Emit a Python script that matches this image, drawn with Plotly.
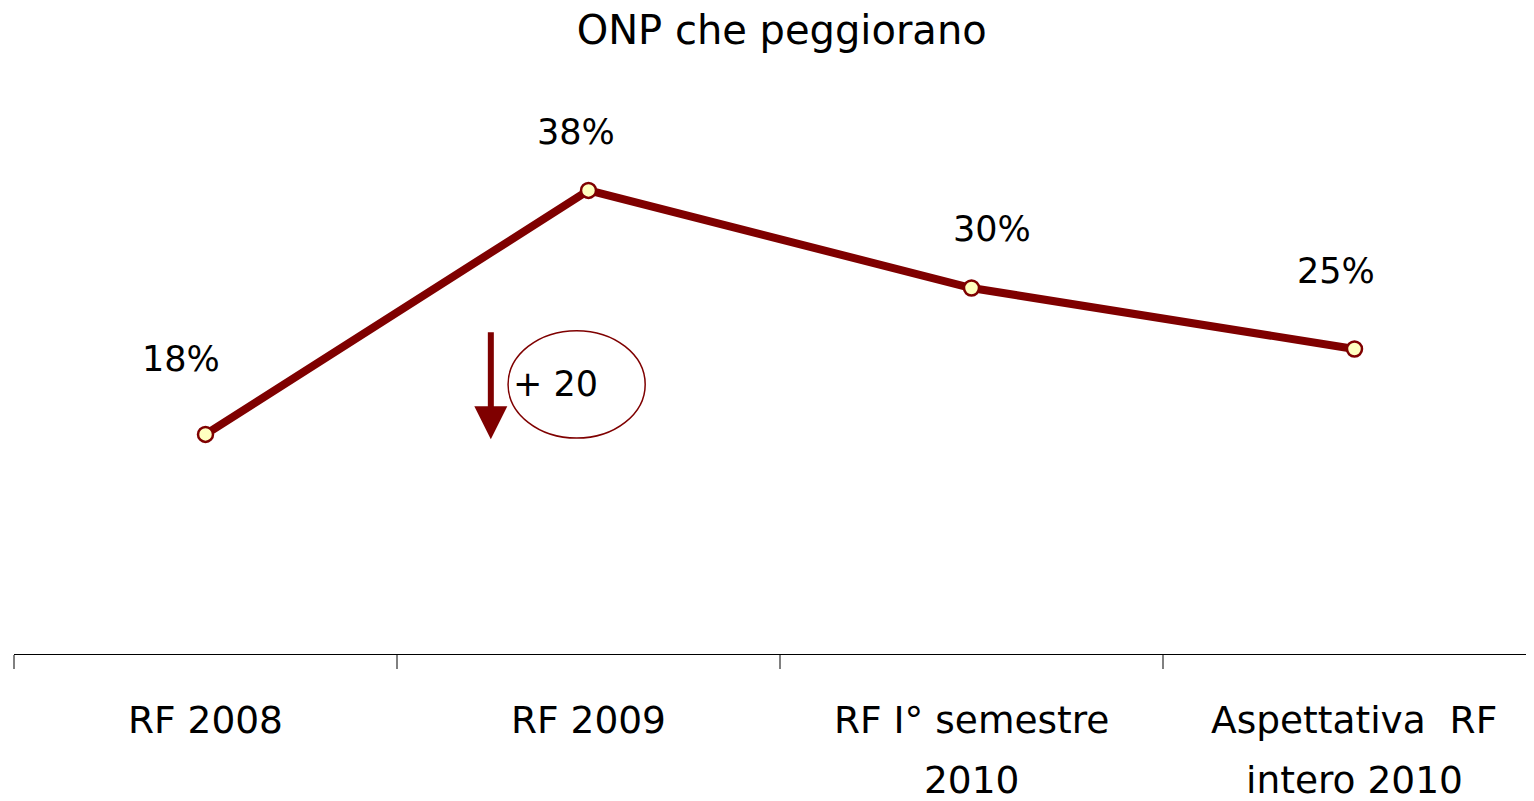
import plotly.graph_objects as go

categories = ["RF 2008", "RF 2009", "RF I° semestre\n2010", "Aspettativa  RF\nintero 2010"]
values = [18, 38, 30, 25]
value_labels = ["18%", "38%", "30%", "25%"]
label_xshift = [-25, -13, 21, -18]
label_yshift = [75, 58, 59, 78]

RED = "#7F0000"
FONT = "DejaVu Sans, sans-serif"

W, H = 1526, 793
fig = go.Figure()
fig.add_trace(go.Scatter(
    x=list(range(len(categories))), y=values, mode="lines+markers",
    line=dict(color=RED, width=8),
    marker=dict(size=15, color="#FFFFC0", line=dict(color=RED, width=2.5)),
    hoverinfo="skip", showlegend=False,
))

for i, (v, t) in enumerate(zip(values, value_labels)):
    fig.add_annotation(x=i, y=v, text=t, showarrow=False,
                       xshift=label_xshift[i], yshift=label_yshift[i],
                       font=dict(size=35, color="#000000", family=FONT))

# category labels (two-line labels with wide line spacing)
for i, cat in enumerate(categories):
    for k, line in enumerate(cat.split("\n")):
        fig.add_annotation(x=i, y=0, xref="x", yref="y", text=line, showarrow=False,
                           yanchor="middle", yshift=-66 - 60 * k,
                           font=dict(size=37.5, color="#000000", family=FONT))

# arrow
fig.add_annotation(x=0.745, y=17.6, ax=0.745, ay=26.5, xref="x", yref="y",
                   axref="x", ayref="y", text="", showarrow=True,
                   arrowhead=2, arrowsize=1.1, arrowwidth=6, arrowcolor=RED)
# ellipse
fig.add_shape(type="circle", xref="x", yref="y", x0=0.79, x1=1.148, y0=17.7, y1=26.5,
              line=dict(color=RED, width=1.5), fillcolor="rgba(0,0,0,0)")
fig.add_annotation(x=0.79, y=22.15, xref="x", yref="y", text="+ 20", showarrow=False,
                   xanchor="left", xshift=3, font=dict(size=35, color="#000000", family=FONT))

fig.update_layout(
    width=W, height=H,
    margin=dict(l=6, r=0, t=72, b=147),
    paper_bgcolor="white", plot_bgcolor="white",
    title=dict(text="ONP che peggiorano", x=0.507, xanchor="center", y=1 - 22 / H, yanchor="middle",
               font=dict(size=40, color="#000000", family=FONT)),
    xaxis=dict(range=[-0.5, 3.4687],
               tickmode="array", tickvals=[-0.5, 0.5, 1.5, 2.5, 3.5],
               ticktext=["", "", "", "", ""], ticks="outside", ticklen=14,
               tickcolor="#808080", tickwidth=1.5,
               showgrid=False, zeroline=False,
               showline=True, linecolor="#000000", linewidth=1),
    yaxis=dict(range=[0, 47.05], visible=False, showgrid=False, zeroline=False),
)

fig.write_html("out.html")
